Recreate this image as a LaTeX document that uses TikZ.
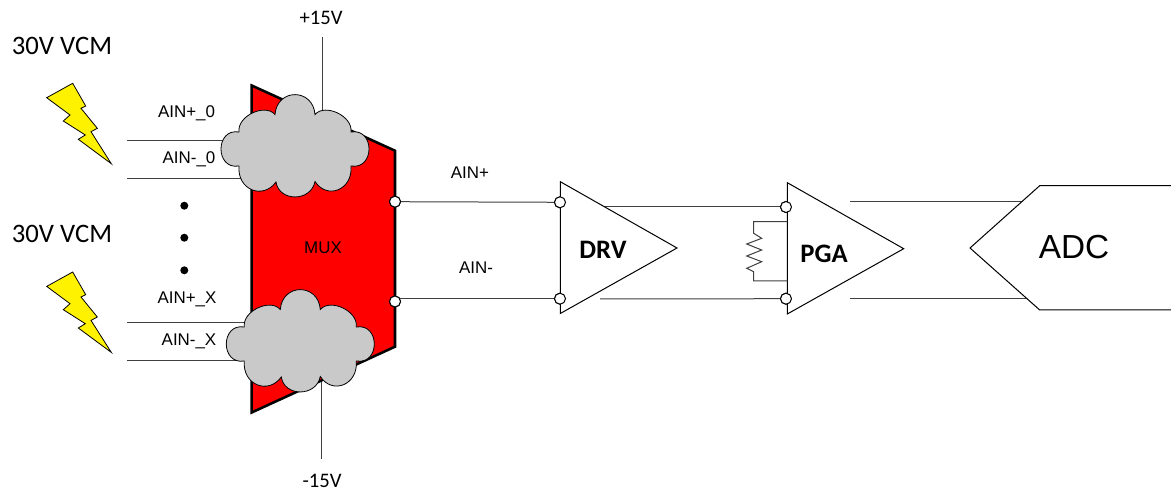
\documentclass[tikz,border=0pt]{standalone}
\usepackage{fontspec}
\setmainfont{Carlito}
\newfontfamily\arialfont{Liberation Sans}
\usetikzlibrary{positioning}
\begin{document}
\begin{tikzpicture}[x=0.75pt, y=-0.75pt, line width=0.75pt,
    noise/.pic={
      \draw[fill=gray!42!white, line width=0.6pt] (-56,-14) .. controls (-58,-30) and (-30,-43) .. (-20,-31.5)
        .. controls (-18,-58) and (18,-58) .. (20,-31.5)
        .. controls (30,-43) and (58,-30) .. (56,-14)
        .. controls (80,-18) and (80,24) .. (56,20)
        .. controls (58,44) and (32,54) .. (20,35.5)
        .. controls (16,56) and (-16,56) .. (-19,36)
        .. controls (-32,54) and (-58,44) .. (-56,20)
        .. controls (-80,24) and (-80,-18) .. cycle;
    },
    bolt/.pic={
      \draw[fill=yellow, line width=0.6pt] (-33.6,14.4) -- (-7.6,0) -- (5.4,22.7) -- (0.7,25) -- (17,45) -- (10.7,48.4)
        -- (31,80.4) -- (-2,56) -- (5,51.7) -- (-17,37.7) -- (-10.3,31.7) -- cycle;
    },
    pin/.style={circle, draw=black, fill=white, inner sep=0pt, minimum size=11pt*0.75},
    dot/.style={circle, fill=black, inner sep=0pt, minimum size=6pt},
    wire/.style={draw=black!75},
    vcm/.style={font=\fontsize{20}{22}\selectfont},
    rail/.style={font=\fontsize{15.5}{18}\selectfont},
    sig/.style={font=\arialfont\fontsize{12.7}{15}\selectfont},
    amp/.style={font=\bfseries\fontsize{20}{22}\selectfont}]
   \useasboundingbox (0,0) rectangle (1171,491);
   \fill[white] (0,0) rectangle (1171,491);

   \coordinate (vptop) at (322,37);
   \coordinate (vpin) at (322,120);
   \coordinate (vnin) at (321.5,370);
   \coordinate (vnbot) at (321.5,459);
   \draw[wire] (vptop) -- (vpin);
   \draw[wire] (vnin) -- (vnbot);

   \draw[line width=1.9pt, fill=red] (251.7,85.5) -- (395,150.7) -- (395,346.7) -- (251.7,412.5) -- cycle;

   \coordinate (a0p) at (127,141);
   \coordinate (a0pin) at (240,141);
   \coordinate (a0n) at (127,179);
   \coordinate (a0nin) at (260,179);
   \coordinate (axp) at (127,323);
   \coordinate (axpin) at (260,323);
   \coordinate (axn) at (127,361);
   \coordinate (axnin) at (260,361);
   \draw[wire] (a0p) -- (a0pin);
   \draw[wire] (a0n) -- (a0nin);
   \draw[wire] (axp) -- (axpin);
   \draw[wire] (axn) -- (axnin);

   \pic at (295,146) {noise};
   \pic at (300.3,341) {noise};
   \pic at (80.3,83.3) {bolt};
   \pic at (80.3,272) {bolt};

   \coordinate (d2pt) at (600,207);
   \coordinate (d2nb) at (600,299);
   \coordinate (p2at) at (850,202);
   \coordinate (p2ab) at (850,299);
   \coordinate (adcit) at (1030,202);
   \coordinate (adcib) at (1030,299);
   \begin{scope}[every node/.style=pin]
    \node (muxt) at (395,201.7) {};
    \node (muxb) at (395,301.5) {};
    \node (drvt) at (560,202.3) {};
    \node (drvb) at (560,298.7) {};
    \node (pgat) at (786,207) {};
    \node (pgab) at (786,298.7) {};
   \end{scope}

   \begin{scope}[on background layer/.style={}]
    \draw[wire] (muxt) -- (drvt);
    \draw[wire] (muxb |- drvb) -- (drvb);
    \draw[wire] (d2pt) -- (pgat);
    \draw[wire] (d2nb) -- (pgab);
    \draw[wire] (p2at) -- (adcit);
    \draw[wire] (p2ab) -- (adcib);
   \end{scope}

   \draw[fill=white] (560.3,181.7) -- (677,248) -- (560.3,313.5) -- cycle;
   \draw[fill=white] (787.3,182.7) -- (903.7,248.7) -- (787.3,314) -- cycle;
   \draw[fill=white] (1171,185.7) -- (1039.7,185.7) -- (970,248) -- (1039.7,310) -- (1171,310);

   \draw[wire] (787.3,221.7) -- (753.7,221.7) -- (753.7,233.3) -- (761.7,238.3) -- (746.7,244) -- (761.7,250)
     -- (746.7,256) -- (761.7,261.7) -- (746.7,268.3) -- (753.7,271.7) -- (753.7,281) -- (787.3,281);

   \begin{scope}[every node/.style=pin]
    \node (muxt) at (395,201.7) {};
    \node (muxb) at (395,301.5) {};
    \node (drvt) at (560,202.3) {};
    \node (drvb) at (560,298.7) {};
    \node (pgat) at (786,207) {};
    \node (pgab) at (786,298.7) {};
   \end{scope}

   \begin{scope}[every node/.style=dot]
    \node (d1) at (184.3,205.7) {};
    \node (d2) at (184.3,237.7) {};
    \node (d3) at (184.3,270.3) {};
   \end{scope}

   \node[vcm] (vcm0) at (62,46) {30V VCM};
   \node[vcm] (vcmx) at (62,234) {30V VCM};
   \node[rail] (vp) at (321,18) {+15V};
   \node[rail] (vn) at (322,481) {-15V};
   \begin{scope}[every node/.style=sig]
    \node (l0p) at (186.5,113) {AIN+\_0};
    \node (l0n) at (189,159) {AIN-\_0};
    \node (lxp) at (187,299.5) {AIN+\_X};
    \node (lxn) at (189,341) {AIN-\_X};
    \node (lap) at (470,173) {AIN+};
    \node (lan) at (476,268) {AIN-};
    \node (mux) at (323,248) {MUX};
   \end{scope}
   \node[amp] (drv) at (603,250) {DRV};
   \node[amp] (pga) at (824,254) {PGA};
   \node[font=\arialfont\fontsize{25}{28}\selectfont] (adc) at (1074,247) {ADC};
\end{tikzpicture}
\end{document}
